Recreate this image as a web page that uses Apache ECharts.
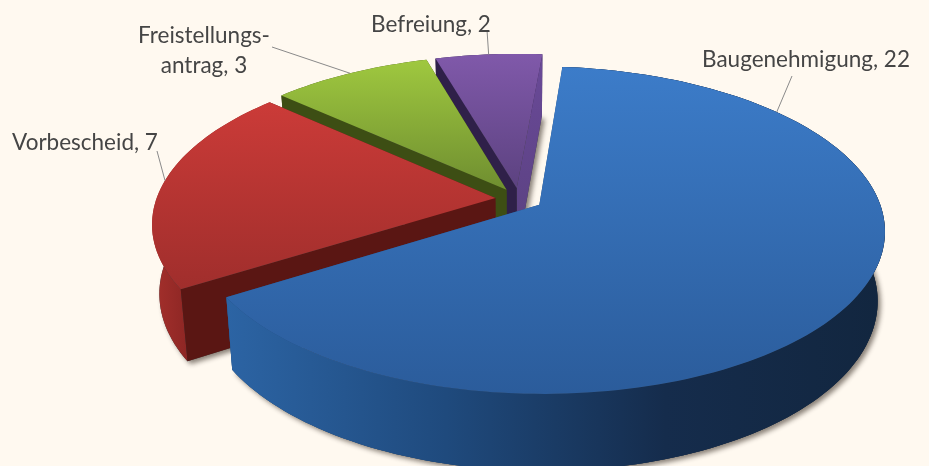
<!DOCTYPE html>
<html><head><meta charset="utf-8">
<style>html,body{margin:0;padding:0;background:#FFF9F0}#c{width:929px;height:466px}</style>
<script src="https://cdn.jsdelivr.net/npm/echarts@6/dist/echarts.min.js"></script>
</head><body><div id="c"></div>
<script>
const categories = ['Baugenehmigung', 'Vorbescheid', 'Freistellungs-\nantrag', 'Befreiung'];
const values = [22, 7, 3, 2];

// appearance of each slice: top gradient, outer wall, start-cut wall, end-cut wall
const topColors = [['#3C7CC9','#2B5C9B'],['#CB3B38','#A02E2C'],['#9FC83F','#6F8E30'],['#8059AA','#5C4280']];
const wallColors = [['#2C64A4','#1F4A7D','#152C4C','#12263F'],['#A5302C','#8A2523','#8A2523','#8A2523'],['#3D4E14','#3D4E14','#3D4E14','#3D4E14'],['#2F2049','#2F2049','#2F2049','#2F2049']];
const cutColors = [['#1F4A7D','#1F4A7D'],['#5A1613','#5A1613'],['#3D4E14','#3D4E14'],['#2F2049','#2F2049']];
const endCutColors = [['#1F4A7D','#1F4A7D'],['#5A1613','#5A1613'],['#3D4E14','#3D4E14'],['#6A4A98','#59407F']];

// labels: text anchor, leader end and where along the rim the leader starts
const labelAnchors = [[806,60],[85,143],[204,51],[431,25]];
const leaderEnds = [[792,76],[157,151],[272,47],[487,30]];
const leaderFractions = [0.195,0.52,0.5,0.5];

// view
const START_DEG = 5, EXPLODE = 0.07;
const PX = 519, PY = 199, R = 339, RY = 158, K = 0.154, DEPTH = 68, BOTTOM_SCALE = 0.98;

const total = values.reduce((a,b)=>a+b,0);
const rad = d => d*Math.PI/180;
function project(U,V,lower){
  const s = 1/(1-K*V);
  if(!lower) return [PX+R*U*s, PY+RY*V*s];
  return [PX+R*U*s*BOTTOM_SCALE, PY+(RY*V*BOTTOM_SCALE+DEPTH)*s];
}
function sliceRange(i){
  let a = START_DEG;
  for(let j=0;j<i;j++) a += values[j]/total*360;
  return [a, a+values[i]/total*360];
}
function grad(cols,horizontal){
  const stops = cols.map((c,i)=>({offset:i/(cols.length-1),color:c}));
  return new echarts.graphic.LinearGradient(0,0,horizontal?1:0,horizontal?0:1,stops);
}
function renderItem(params,api){
  const i = api.value(1);
  const [a0,a1] = sliceRange(i);
  const mid = rad((a0+a1)/2);
  const ox = EXPLODE*Math.sin(mid), oy = -EXPLODE*Math.cos(mid);
  const rim = (deg,lower)=>project(ox+Math.sin(rad(deg)),oy-Math.cos(rad(deg)),lower);
  const apex = lower=>project(ox,oy,lower);
  const n = Math.max(4,Math.ceil((a1-a0)/1.5));
  const upper=[],lower=[];
  for(let k=0;k<=n;k++){const d=a0+(a1-a0)*k/n;upper.push(rim(d,false));lower.push(rim(d,true));}
  const poly=(pts,fill,extra)=>({type:'polygon',shape:{points:pts},style:Object.assign({fill:fill},extra||{}),silent:true});
  const children=[];
  // cast shadow
  children.push(poly([apex(true)].concat(lower),'#3a3a3a',{shadowBlur:5,shadowOffsetX:3,shadowOffsetY:3,shadowColor:'rgba(40,30,20,0.55)'}));
  // outer wall
  children.push(poly(upper.concat(lower.slice().reverse()),grad(wallColors[i],true)));
  // cut walls
  children.push(poly([apex(false),rim(a1,false),rim(a1,true),apex(true)],grad(endCutColors[i],false)));
  children.push(poly([apex(false),rim(a0,false),rim(a0,true),apex(true)],grad(cutColors[i],false)));
  if(i===0) children.push(poly(upper.concat(lower.slice().reverse()),grad(wallColors[i],true)));
  // top
  children.push(poly([apex(false)].concat(upper),grad(topColors[i],false)));
  // leader and label
  const ls = rim(a0+(a1-a0)*leaderFractions[i],false);
  children.push({type:'line',shape:{x1:ls[0],y1:ls[1],x2:leaderEnds[i][0],y2:leaderEnds[i][1]},style:{stroke:'#8a8a8a',lineWidth:1},silent:true});
  children.push({type:'text',silent:true,style:{
    text:categories[i]+', '+api.value(0),x:labelAnchors[i][0],y:labelAnchors[i][1],
    fill:'#454545',font:'22.5px Lato',align:'center',verticalAlign:'middle',lineHeight:30}});
  return {type:'group',children:children};
}
const order = values.map((v,i)=>[v,i]).reverse();
const chart = echarts.init(document.getElementById('c'),null,{renderer:'canvas',width:929,height:466});
chart.setOption({
  animation:false,
  backgroundColor:'#FFF9F0',
  series:[{type:'custom',coordinateSystem:'none',renderItem:renderItem,data:order,clip:false}]
});
</script></body></html>
